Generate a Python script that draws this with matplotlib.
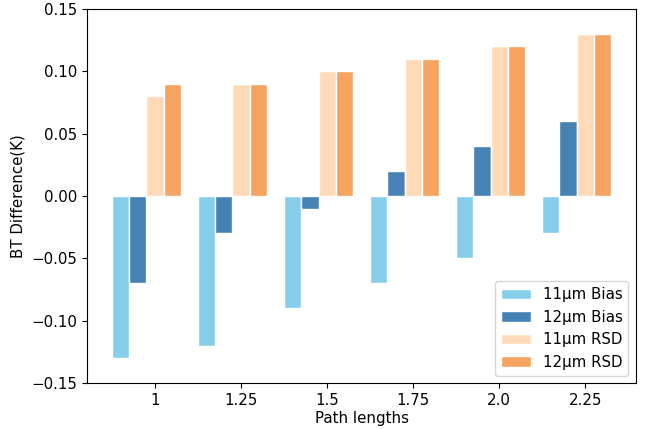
import matplotlib.pyplot as plt
import numpy as np

path_lengths = ['1', '1.25', '1.5', '1.75', '2.0', '2.25']
bias_11 = [-0.13, -0.12, -0.09, -0.07, -0.05, -0.03]
bias_12 = [-0.07, -0.03, -0.01, 0.02, 0.04, 0.06]
rsd_11 = [0.08, 0.09, 0.10, 0.11, 0.12, 0.13]
rsd_12 = [0.09, 0.09, 0.10, 0.11, 0.12, 0.13]

plt.rcParams['font.size'] = 10.8

fig = plt.figure(figsize=(6.45, 4.29), dpi=100)
ax = fig.add_axes([0.135, 0.107, 0.851, 0.872])

x = np.arange(len(path_lengths))
w = 0.2
ax.bar(x - 2 * w, bias_11, w, color='skyblue', edgecolor='white', label='11μm Bias')
ax.bar(x - w, bias_12, w, color='steelblue', edgecolor='white', label='12μm Bias')
ax.bar(x, rsd_11, w, color='peachpuff', edgecolor='white', label='11μm RSD')
ax.bar(x + w, rsd_12, w, color='sandybrown', edgecolor='white', label='12μm RSD')

ax.set_xticks(x)
ax.set_xticklabels(path_lengths)
ax.set_ylim(-0.15, 0.15)
ax.set_yticks(np.arange(-0.15, 0.151, 0.05))
ax.set_xlabel('Path lengths', labelpad=2)
ax.set_ylabel('BT Difference(K)')
ax.legend(loc='lower right')

fig.savefig('out.png', dpi=100)
